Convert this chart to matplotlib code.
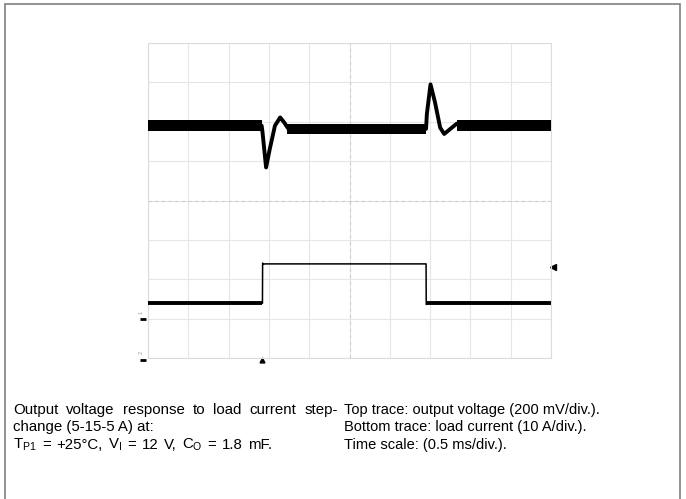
import numpy as np
import matplotlib
matplotlib.use('Agg')
import matplotlib.pyplot as plt
from matplotlib.patches import Rectangle

plt.rcParams['font.family'] = ['Liberation Sans', 'DejaVu Sans']
plt.rcParams['mathtext.fontset'] = 'custom'
plt.rcParams['mathtext.rm'] = 'Liberation Sans'
plt.rcParams['mathtext.it'] = 'Liberation Sans:italic'

# scope settings
ms_per_div = 0.5
mv_per_div = 200
a_per_div = 10
vout_zero_div = 5.9     # where the top trace sits on screen
iload_zero_div = 0.89   # where 0 A sits on screen

# top trace: output voltage deviation (mV) vs time (ms)
vout_t = [0.0, 1.41, 1.42, 1.465, 1.51, 1.575, 1.64, 1.69, 1.735, 1.80,
          3.45, 3.46, 3.505, 3.56, 3.625, 3.675, 3.74, 3.83, 3.90, 5.0]
vout_mv = [0, 0, -30, -212, -120, 0, 42, 16, -12, -16,
           -16, 60, 210, 120, -10, -42, -20, 10, 0, 0]

# ripple/noise band on the flat parts of the top trace
band_start = [0.0, 1.73, 3.83]
band_end = [1.41, 3.45, 5.0]
band_mv = [0, -16, 0]
band_halfwidth_mv = 27

# bottom trace: load current (A) vs time (ms)
iload_t = [0.0, 1.42, 1.422, 1.43, 1.45, 3.45, 3.452, 3.47, 5.0]
iload_a = [5, 5, 15.2, 14.9, 15, 15, 4.7, 5, 5]
low_start = [0.0, 3.46]
low_end = [1.42, 5.0]

trigger_t = 1.42
trigger_level_div = 2.31

caption_left = ['Output voltage response to load current step-',
                'change (5-15-5 A) at:',
                r'T$_{\mathrm{P1}}$ = +25°C, V$_{\mathrm{I}}$ = 12 V, C$_{\mathrm{O}}$ = 1.8 mF.']
caption_right = ['Top trace: output voltage (200 mV/div.).',
                 'Bottom trace: load current (10 A/div.).',
                 'Time scale: (0.5 ms/div.).']

W, H = 686, 499
fig = plt.figure(figsize=(W / 100, H / 100), dpi=100)
ax = fig.add_axes([148 / W, 1 - 358 / H, 403 / W, 315 / H])

# graticule
ax.set_xlim(0, 10 * ms_per_div)
ax.set_ylim(0, 8)
ax.set_xticks(np.arange(0, 10 * ms_per_div + 0.01, ms_per_div))
ax.set_yticks(np.arange(0, 9, 1))
ax.tick_params(length=0, labelbottom=False, labelleft=False)
ax.grid(True, color='#e6e6e6', lw=0.8)
ax.axvline(5 * ms_per_div, color='#cccccc', lw=0.8, ls=(0, (3, 3)))
ax.axhline(4, color='#cccccc', lw=0.8, ls=(0, (3, 3)))
for s in ax.spines.values():
    s.set_color('#dcdcdc')
    s.set_linewidth(0.8)

# top trace
vout_div = vout_zero_div + np.array(vout_mv) / mv_per_div
ax.plot(vout_t, vout_div, color='black', lw=2.8, solid_joinstyle='round', zorder=3)
for t0, t1, lvl in zip(band_start, band_end, band_mv):
    ax.fill_between([t0, t1],
                    vout_zero_div + (lvl - band_halfwidth_mv) / mv_per_div,
                    vout_zero_div + (lvl + band_halfwidth_mv) / mv_per_div,
                    color='black', lw=0, zorder=3)

# bottom trace
iload_div = iload_zero_div + np.array(iload_a) / a_per_div
ax.plot(iload_t, iload_div, color='black', lw=1.1, zorder=3)
for t0, t1 in zip(low_start, low_end):
    ax.plot([t0, t1], [iload_zero_div + 5 / a_per_div] * 2, color='black', lw=2.8,
            solid_capstyle='butt', zorder=3)

# scope markers
ax.plot([10 * ms_per_div + 0.03], [trigger_level_div], marker='<', color='black',
        ms=4, clip_on=False)
ax.plot([trigger_t], [-0.06], marker='^', color='black', ms=3.5, clip_on=False)
ax.plot([-0.06], [0.99], marker='_', color='black', ms=4, mew=2, clip_on=False)
ax.plot([-0.06], [-0.05], marker='_', color='black', ms=4, mew=2, clip_on=False)
ax.text(-0.09, 1.15, '1', fontsize=4, color='#999999', rotation=90,
        ha='center', va='center', clip_on=False)
ax.text(-0.09, 0.13, '2', fontsize=4, color='#999999', rotation=90,
        ha='center', va='center', clip_on=False)

# caption
fs_left = 10.8
fs_right = 10.5
base_y = [414, 431.5, 449]
renderer = fig.canvas.get_renderer()


def justified(line, x0, x1, y, fs):
    words = line.split(' ')
    widths = []
    for w in words:
        t = fig.text(0, 0, w, fontsize=fs)
        widths.append(t.get_window_extent(renderer).width)
        t.remove()
    gap = (x1 - x0 - sum(widths)) / (len(words) - 1)
    x = x0
    for w, wd in zip(words, widths):
        fig.text(x / W, 1 - y / H, w, fontsize=fs, va='baseline', ha='left')
        x += wd + gap


justified(caption_left[0], 13, 338, base_y[0], fs_left)
fig.text(13 / W, 1 - base_y[1] / H, caption_left[1], fontsize=fs_left,
         va='baseline', ha='left')
justified(caption_left[2], 13, 272, base_y[2], fs_left)
for txt, y in zip(caption_right, base_y):
    fig.text(344 / W, 1 - y / H, txt, fontsize=fs_right, va='baseline', ha='left')

# page frame
fig.patches.append(Rectangle((5 / W, -0.02), 675 / W, 1.02 - 3.5 / H,
                             transform=fig.transFigure, fill=False,
                             edgecolor='#808080', lw=1.2))

fig.savefig('out.png', dpi=100)
